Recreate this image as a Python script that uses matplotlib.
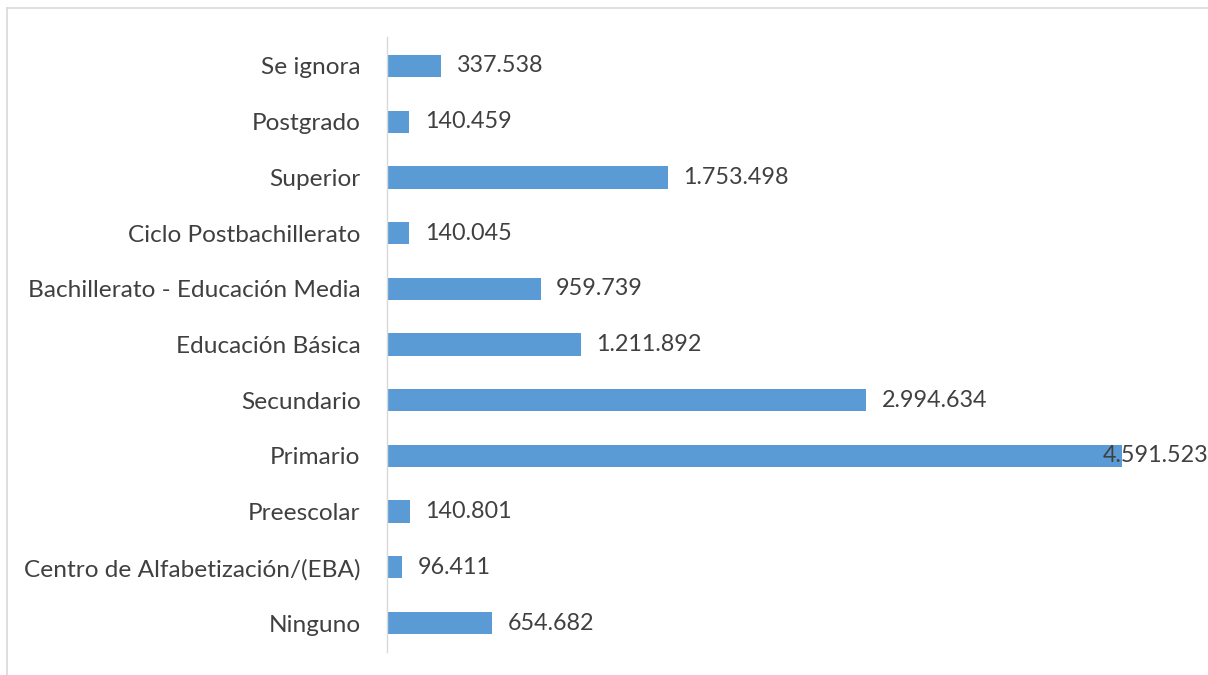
import matplotlib.pyplot as plt
from matplotlib.lines import Line2D

categories = ['Ninguno', 'Centro de Alfabetización/(EBA)', 'Preescolar', 'Primario',
              'Secundario', 'Educación Básica', 'Bachillerato - Educación Media',
              'Ciclo Postbachillerato', 'Superior', 'Postgrado', 'Se ignora']
values = [654682, 96411, 140801, 4591523, 2994634, 1211892, 959739,
          140045, 1753498, 140459, 337538]

plt.rcParams['font.family'] = ['Lato', 'DejaVu Sans']
txt = '#404040'
bar_color = '#5B9BD5'

fig = plt.figure(figsize=(12.08, 6.75), dpi=100)
ax = fig.add_axes([387 / 1208, 23 / 675, 821 / 1208, 615 / 675])

y = range(len(categories))
ax.barh(y, values, height=0.4, color=bar_color)
ax.set_ylim(-0.52, len(categories) - 0.48)
xmax = max(values) * 821 / 735
ax.set_xlim(0, xmax)

for i, v in enumerate(values):
    lab = f'{v:,}'.replace(',', '.')
    if v == max(values):
        ax.text(xmax, i, lab, ha='right', va='center', fontsize=16.8, color=txt)
    else:
        ax.text(v + xmax * 0.019, i, lab, ha='left', va='center', fontsize=16.8, color=txt)

ax.set_yticks(list(y))
ax.set_yticklabels(categories, fontsize=17.6, color=txt)
ax.tick_params(axis='y', length=0, pad=19)
ax.set_xticks([])
for s in ['top', 'right', 'bottom']:
    ax.spines[s].set_visible(False)
ax.spines['left'].set_color('#d9d9d9')
ax.spines['left'].set_linewidth(1)

# chart area border
fig.add_artist(Line2D([7 / 1208, 1], [1 - 8 / 675, 1 - 8 / 675], color='#d9d9d9', lw=1.2))
fig.add_artist(Line2D([7 / 1208, 7 / 1208], [0, 1 - 8 / 675], color='#d9d9d9', lw=1.2))

fig.savefig('out.png', dpi=100)
